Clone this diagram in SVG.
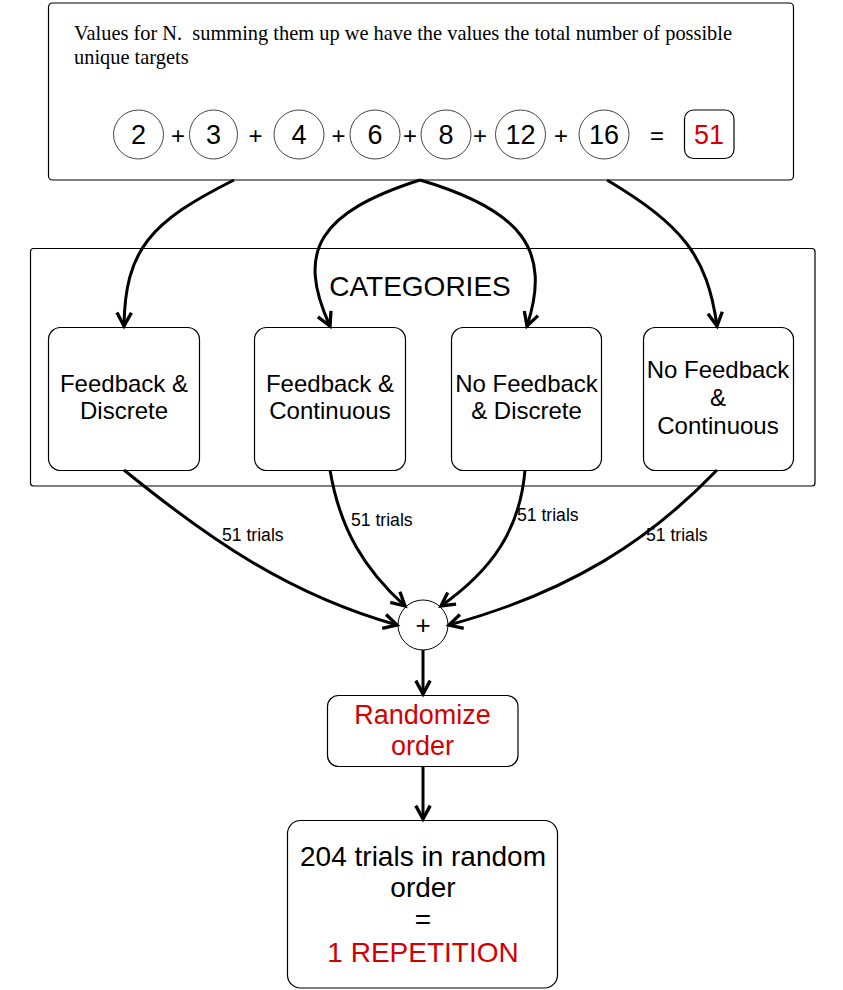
<svg xmlns="http://www.w3.org/2000/svg" width="843" height="990" viewBox="0 0 843 990">
<style>
.box{fill:#fff;stroke:#000;stroke-width:1.2}
.num{fill:#fff;stroke:#444;stroke-width:1}
.sans{font-family:"Liberation Sans",Arial,sans-serif;fill:#000}
.serif{font-family:"Liberation Serif","Times New Roman",serif;fill:#000}
.red{fill:#d40000}
.c{text-anchor:middle}
.edge{fill:none;stroke:#000;stroke-width:3;marker-end:url(#arr)}
</style>
<defs>
<marker id="arr" markerUnits="userSpaceOnUse" markerWidth="20" markerHeight="20" viewBox="-15 -9 18 18" refX="0" refY="0" orient="auto" overflow="visible">
<path d="M-12,-6.5 L0,0 L-12,6.5" fill="none" stroke="#000" stroke-width="3" stroke-linejoin="miter"/>
</marker>
</defs>
<rect width="843" height="990" fill="#fff"/>

<g id="values">
<rect class="box" x="48.5" y="3" width="745" height="177" rx="4"/>
<text class="serif" x="74" y="40" font-size="20.4">Values for N.&#160; summing them up we have the values the total number of possible</text>
<text class="serif" x="74" y="64" font-size="20.4">unique targets</text>
<g>
<ellipse class="num" cx="138.5" cy="134.5" rx="25" ry="24.5"/><text class="sans c" x="138.5" y="144" font-size="27">2</text>
<ellipse class="num" cx="213.5" cy="134.5" rx="24" ry="24.5"/><text class="sans c" x="213.5" y="144" font-size="27">3</text>
<ellipse class="num" cx="299" cy="134.5" rx="25" ry="24.5"/><text class="sans c" x="299" y="144" font-size="27">4</text>
<ellipse class="num" cx="375" cy="134.5" rx="25" ry="24.5"/><text class="sans c" x="375" y="144" font-size="27">6</text>
<ellipse class="num" cx="446" cy="134.5" rx="25" ry="24.5"/><text class="sans c" x="446" y="144" font-size="27">8</text>
<ellipse class="num" cx="520.5" cy="134.5" rx="25" ry="24.5"/><text class="sans c" x="520.5" y="144" font-size="27">12</text>
<ellipse class="num" cx="604" cy="134.5" rx="25" ry="24.5"/><text class="sans c" x="604" y="144" font-size="27">16</text>
</g>
<g>
<text class="sans c" x="178" y="143.5" font-size="24">+</text>
<text class="sans c" x="255.5" y="143.5" font-size="24">+</text>
<text class="sans c" x="338.5" y="143.5" font-size="24">+</text>
<text class="sans c" x="410" y="143.5" font-size="24">+</text>
<text class="sans c" x="480" y="143.5" font-size="24">+</text>
<text class="sans c" x="561" y="143.5" font-size="24">+</text>
<text class="sans c" x="657" y="143.5" font-size="24">=</text>
</g>
<rect class="box" x="684.5" y="110" width="49.5" height="48.5" rx="9"/>
<text class="sans c red" x="709" y="144" font-size="27">51</text>
</g>

<g id="categories">
<rect class="box" x="30.5" y="248.5" width="784.5" height="237.5" rx="3"/>
<text class="sans c" x="420" y="296" font-size="28">CATEGORIES</text>
</g>

<g id="fb-discrete">
<rect class="box" x="48.5" y="327.5" width="151" height="143" rx="12"/>
<text class="sans c" x="124" y="392" font-size="24">Feedback &amp;</text>
<text class="sans c" x="124" y="419" font-size="24">Discrete</text>
</g>
<g id="fb-continuous">
<rect class="box" x="254.5" y="327.5" width="151" height="143" rx="12"/>
<text class="sans c" x="330" y="392" font-size="24">Feedback &amp;</text>
<text class="sans c" x="330" y="419" font-size="24">Continuous</text>
</g>
<g id="nofb-discrete">
<rect class="box" x="451.5" y="327.5" width="150" height="143" rx="12"/>
<text class="sans c" x="526.5" y="392" font-size="24">No Feedback</text>
<text class="sans c" x="526.5" y="419" font-size="24">&amp; Discrete</text>
</g>
<g id="nofb-continuous">
<rect class="box" x="643.5" y="327.5" width="150" height="143" rx="12"/>
<text class="sans c" x="718" y="378" font-size="24">No Feedback</text>
<text class="sans c" x="718" y="406" font-size="24">&amp;</text>
<text class="sans c" x="718" y="434" font-size="24">Continuous</text>
</g>

<g id="plus">
<circle cx="423" cy="625" r="25" fill="#fff" stroke="#000" stroke-width="1"/>
<text class="sans c" x="423" y="634" font-size="26">+</text>
</g>

<g id="randomize">
<rect class="box" x="327.5" y="695.5" width="190.5" height="71" rx="11"/>
<text class="sans c red" x="422.5" y="724" font-size="27">Randomize</text>
<text class="sans c red" x="422.5" y="755" font-size="27">order</text>
</g>

<g id="repetition">
<rect class="box" x="287.5" y="820.5" width="270" height="167.5" rx="13"/>
<text class="sans c" x="423" y="866" font-size="28">204 trials in random</text>
<text class="sans c" x="423" y="897" font-size="28">order</text>
<text class="sans c" x="423" y="929" font-size="28">=</text>
<text class="sans c red" x="423" y="962" font-size="28">1 REPETITION</text>
</g>

<g id="connectors">
<path class="edge" d="M234,180 C150,222 125,250 124,326"/>
<path class="edge" d="M420,180 C320,212 295,250 330,326"/>
<path class="edge" d="M420,180 C522,210 552,250 527,326"/>
<path class="edge" d="M607,180 C682,225 707,255 717,326"/>
<path class="edge" d="M124,470 C210,540 290,595 397,625"/>
<path class="edge" d="M330,470 C340,530 365,570 405,606"/>
<path class="edge" d="M525,470 C520,530 492,570 441,606"/>
<path class="edge" d="M717,470 C650,540 570,592 449,625"/>
<path class="edge" d="M423,650 L423,694" stroke-width="2.6"/>
<path class="edge" d="M423,767 L423,819" stroke-width="2.6"/>
<g class="sans" font-size="17.6">
<text x="222" y="541">51 trials</text>
<text x="351" y="526">51 trials</text>
<text x="517" y="521">51 trials</text>
<text x="646" y="541">51 trials</text>
</g>
</g>
</svg>
